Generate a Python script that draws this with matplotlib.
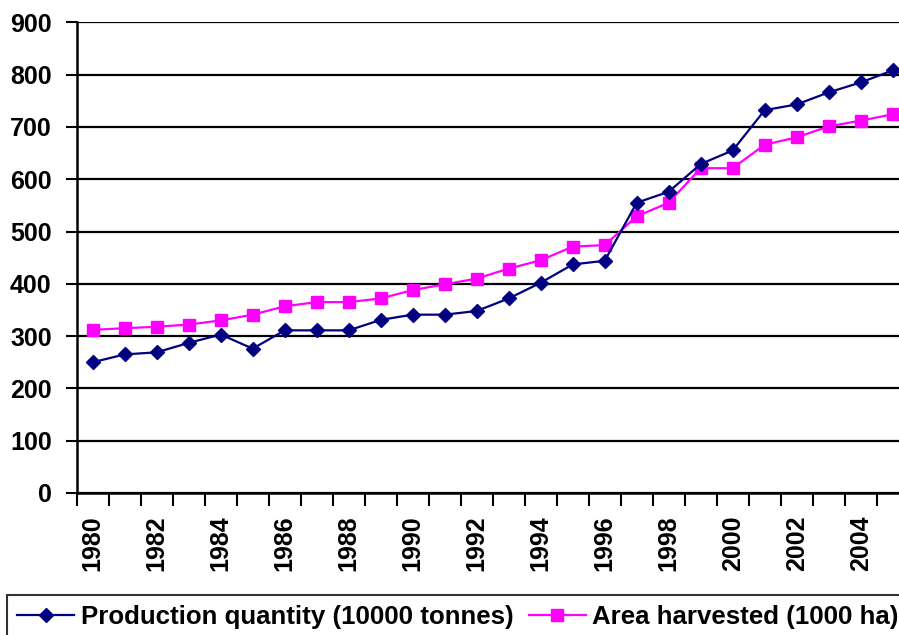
import matplotlib
matplotlib.use("Agg")
import matplotlib.pyplot as plt
import numpy as np

plt.rcParams['font.family'] = ['Liberation Sans', 'DejaVu Sans']

years = list(range(1980, 2006))
production = [250, 265, 269, 287, 303, 276, 311, 311, 311, 331, 341, 341, 348, 372, 402,
              437, 444, 555, 576, 629, 655, 732, 743, 766, 785, 808]
area = [312, 315, 318, 322, 330, 341, 357, 365, 365, 372, 388, 399, 410, 429, 445,
        471, 474, 529, 555, 621, 621, 666, 680, 701, 712, 724]
y_ticks = [0, 100, 200, 300, 400, 500, 600, 700, 800, 900]

W, H = 899, 635
fig = plt.figure(figsize=(W / 100, H / 100), dpi=100)
left, right, top, bottom = 76.7, 76.7 + 26 * 32, 22.3, 493
ax = fig.add_axes([left / W, 1 - bottom / H, (right - left) / W, (bottom - top) / H])

x = np.arange(len(years)) + 0.5
ax.plot(x, production, color='#000080', lw=1.6, marker='D', ms=6.8,
        label='Production quantity (10000 tonnes)', clip_on=False, zorder=4)
ax.plot(x, area, color='#FF00FF', lw=1.6, marker='s', ms=8.5,
        label='Area harvested (1000 ha)', clip_on=False, zorder=3)

ax.set_xlim(0, len(years))
ax.set_ylim(0, 900)
ax.set_yticks(y_ticks)
ax.set_yticklabels([str(v) for v in y_ticks], fontsize=18, fontweight='bold')
ax.yaxis.grid(True, color='black', lw=1.6)
ax.set_axisbelow(True)

# category boundaries get tick marks, every other category centre gets a label
ax.set_xticks(np.arange(len(years) + 1))
ax.set_xticklabels([])
ax.set_xticks(x[::2], minor=True)
ax.set_xticklabels([str(y) for y in years[::2]], minor=True, rotation=90,
                   fontsize=18, fontweight='bold')
ax.tick_params(axis='x', which='major', length=9, width=1.5, direction='out')
ax.tick_params(axis='x', which='minor', length=0, pad=16)
ax.tick_params(axis='y', length=8, width=1.5, pad=10)

for s in ['top', 'right']:
    ax.spines[s].set_visible(False)
for s in ['left', 'bottom']:
    ax.spines[s].set_linewidth(1.8)
    ax.spines[s].set_color('black')

leg = fig.legend(loc='upper left', bbox_to_anchor=(7 / W, 1 - 595 / H), ncol=2,
                 prop={'size': 18.6, 'weight': 'bold'}, frameon=True, fancybox=False,
                 edgecolor='black', borderaxespad=0, borderpad=0.4, handlelength=2.2,
                 handletextpad=0.25, columnspacing=0.6)
leg.get_frame().set_linewidth(1.5)

fig.savefig('out.png', dpi=100)
